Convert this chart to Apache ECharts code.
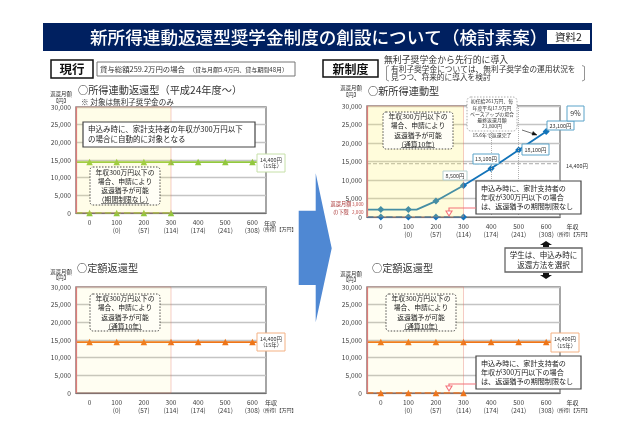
<!DOCTYPE html>
<html>
<head>
<meta charset="utf-8">
<style>
html, body { margin: 0; padding: 0; background: #fff; }
#box { width: 640px; height: 426px; }
</style>
<script src="https://cdn.jsdelivr.net/npm/echarts@6/dist/echarts.min.js"></script>
</head>
<body>
<div id="box"></div>
<script>
var xLabels = ['0', '100', '200', '300', '400', '500', '600'];
var incomeLabels = ['', '(0)', '(57)', '(114)', '(174)', '(241)', '(308)'];
var yTicks = [0, 5000, 10000, 15000, 20000, 25000, 30000];

// 横軸の数値位置（-50 と 650 は枠の端）
var flatX = [-50, 0, 100, 200, 300, 400, 500, 600, 650];
var flatValues = [14400, 14400, 14400, 14400, 14400, 14400, 14400, 14400, 14400];
var zeroX = [-50, 0, 100, 200, 300];
var zeroValues = [0, 0, 0, 0, 0];
var newX = [-50, 0, 100, 130, 200, 300, 400, 500, 600];
var newValues = [2000, 2000, 2000, 2000, 4300, 8500, 13100, 18100, 23100];
var refX = [-50, 650];
var refValues = [14400, 14400];
var bandRange = [-50, 300];
var dottedX = [400, 500];

var FONT = '"Noto Sans CJK JP", "Noto Sans", sans-serif';
var GREEN = '#92c83e', ORANGE = '#ee7518', BLUE = '#1273b9';

function pairs(xs, ys) {
    return xs.map(function (x, i) { return [x, ys[i]]; });
}

function fmt(v) {
    return String(v).replace(/\B(?=(\d{3})+$)/g, ',');
}

var grids = [
    { left: 76, top: 107, width: 190, height: 106 },
    { left: 76, top: 287, width: 190, height: 106 },
    { left: 367, top: 106, width: 193, height: 111 },
    { left: 367, top: 287, width: 193, height: 106 }
];

function lineSeries(idx, xs, ys, color, opt) {
    opt = opt || {};
    return {
        type: 'line',
        xAxisIndex: idx * 2 + 1,
        yAxisIndex: idx,
        data: pairs(xs, ys),
        silent: true,
        animation: false,
        symbol: function (v) {
            return (opt.symbol && xLabels.indexOf(String(v[0])) >= 0) ? opt.symbol : 'none';
        },
        symbolSize: opt.size || 6.5,
        showSymbol: true,
        showAllSymbol: true,
        itemStyle: { color: color },
        lineStyle: { color: color, width: opt.width || 1.6, type: opt.dash ? 'dashed' : 'solid' },
        z: 3
    };
}

function bandSeries(idx, color) {
    return {
        type: 'line',
        xAxisIndex: idx * 2 + 1,
        yAxisIndex: idx,
        data: [],
        silent: true,
        animation: false,
        markArea: {
            silent: true,
            z: 5,
            itemStyle: { color: color, borderColor: 'rgba(225,110,100,0.35)', borderWidth: 1 },
            data: [[{ coord: [bandRange[0], 30000] }, { coord: [bandRange[1], 0] }]]
        },
        // 帯の左端だけ濃い赤
        markLine: {
            silent: true, symbol: 'none', label: { show: false }, animation: false, z: 5,
            lineStyle: { color: '#dc7c78', type: 'solid', width: 1.2 },
            data: [{ xAxis: bandRange[0] }]
        }
    };
}

var xAxes = [], yAxes = [];
grids.forEach(function (g, i) {
    xAxes.push({
        type: 'category', gridIndex: i, data: xLabels,
        axisLine: { lineStyle: { color: '#707070', width: 1.2 } },
        axisTick: { length: 3, lineStyle: { color: '#808080' } },
        axisLabel: {
            interval: 0, fontSize: 6.5, fontFamily: FONT, color: '#404040', margin: 5, lineHeight: 8.5,
            formatter: function (v, n) { return v + '\n' + incomeLabels[n]; }
        }
    });
    xAxes.push({ type: 'value', gridIndex: i, min: -50, max: 650, show: false });
    yAxes.push({
        type: 'value', gridIndex: i, min: yTicks[0], max: yTicks[yTicks.length - 1], interval: 5000,
        axisLine: { show: false }, axisTick: { show: false },
        axisLabel: { fontSize: 6.6, fontFamily: FONT, color: '#404040', margin: 5, formatter: fmt },
        splitLine: { lineStyle: { color: '#c4c4c4', width: 1.3 } }
    });
});

var series = [
    bandSeries(0, 'rgba(255,240,90,0.14)'),
    bandSeries(1, 'rgba(255,240,90,0.08)'),
    bandSeries(2, 'rgba(255,240,90,0.22)'),
    bandSeries(3, 'rgba(255,240,90,0.08)'),
    lineSeries(0, flatX, flatValues, GREEN, { symbol: 'triangle' }),
    lineSeries(0, zeroX, zeroValues, GREEN, { symbol: 'triangle', dash: true }),
    lineSeries(1, flatX, flatValues, ORANGE, { symbol: 'triangle' }),
    lineSeries(2, refX, refValues, '#a8a8a8', { dash: true, width: 1 }),
    lineSeries(2, newX, newValues, BLUE, { symbol: 'diamond', size: 7, width: 1.8 }),
    lineSeries(2, zeroX, zeroValues, BLUE, { symbol: 'diamond', size: 7, dash: true }),
    lineSeries(3, flatX, flatValues, ORANGE, { symbol: 'triangle' }),
    lineSeries(3, zeroX, zeroValues, ORANGE, { symbol: 'triangle', dash: true })
];

// 新所得連動型の 400 / 500 の縦点線
series[7].markLine = {
    silent: true, symbol: 'none', label: { show: false }, animation: false,
    lineStyle: { color: '#b0b0b0', type: 'dotted', width: 1 },
    data: dottedX.map(function (x) { return { xAxis: x }; })
};

var g = [];

function rect(x, y, w, h, fill, stroke, lw, extra) {
    extra = extra || {};
    g.push({
        type: 'rect', z: 20, silent: true,
        shape: { x: x, y: y, width: w, height: h, r: extra.r || 0 },
        style: { fill: fill, stroke: stroke || null, lineWidth: lw || 0, lineDash: extra.dash || null }
    });
}

function text(x, y, s, size, extra) {
    extra = extra || {};
    g.push({
        type: 'text', z: 21, silent: true,
        style: {
            x: x, y: y, text: s, fontSize: size, fontFamily: FONT,
            fontWeight: extra.weight || 'normal', fill: extra.color || '#333',
            align: extra.align || 'left', verticalAlign: 'middle',
            lineHeight: extra.lh || size + 1.5
        }
    });
}

function poly(points, stroke, lw, fill) {
    g.push({
        type: fill ? 'polygon' : 'polyline', z: 21, silent: true,
        shape: { points: points },
        style: { stroke: stroke || null, lineWidth: lw || 0, fill: fill || null }
    });
}

function valueBox(x, y, w, h, s, color) {
    rect(x, y, w, h, '#fff', color, 1);
    text(x + w / 2, y + h / 2, s, 5.4, { align: 'center' });
}

function deferBox(x, y, w, h, last, uw) {
    rect(x, y, w, h, '#fffef6', '#222', 0.8, { r: 3, dash: [1.5, 1.5] });
    text(x + w / 2, y + h / 2, '年収300万円以下の\n場合、申請により\n返還猶予が可能\n' + last, 6.8, { align: 'center', lh: 9.2, color: '#222' });
    poly([[x + w / 2 - uw, y + h - 1.5], [x + w / 2 + uw, y + h - 1.5]], '#333', 0.6);
}

function noticeBox(x, y, w, h, s, size, lh) {
    rect(x, y, w, h, '#fff', '#444', 1.2);
    text(x + 5, y + h / 2, s, size, { lh: lh, color: '#222' });
}

function redArrow(y, bottom) {
    poly([[476, y], [449, y], [449, bottom - 4]], '#f4727a', 1.2);
    poly([[446, bottom - 5], [452, bottom - 5], [449, bottom]], '#f4727a', 1.1, '#fff');
}

// ヘッダー
rect(43, 23, 549, 28, '#002060');
text(90, 37.5, '新所得連動返還型奨学金制度の創設について（検討素案）', 17.6, { color: '#fff', weight: 500 });
rect(547, 30, 43, 14, '#fff');
text(568.5, 37.5, '資料2', 10.5, { align: 'center', color: '#222' });

// 現行
rect(51, 60, 42, 18, '#fff', '#111', 1.5);
text(72, 69.5, '現行', 12.5, { align: 'center', weight: 'bold', color: '#111' });
rect(97, 62, 198, 14, '#fff', '#777', 1);
text(100, 69.5, '貸与総額259.2万円の場合', 7.4);
text(189, 69.5, '（貸与月額5.4万円、貸与期間48月）', 6);

text(78, 90, '○所得連動返還型（平成24年度～）', 10.2);
text(81, 102, '※ 対象は無利子奨学金のみ', 7.6);
text(61, 97.5, '返還月額\n【円】', 5.4, { align: 'center', lh: 6.5 });
noticeBox(83, 122, 172, 25, '申込み時に、家計支持者の年収が300万円以下\nの場合に自動的に対象となる', 7.5, 10);
deferBox(90, 167, 70, 38, '（期間制限なし）', 24);
valueBox(257, 154, 28, 18, '14,400円\n（15年）', '#c6e0a8');
text(264, 224, '年収', 6);
text(263, 229.5, '(所得)【万円】', 5);

text(77, 268, '○定額返還型', 10.2);
text(61, 275, '返還月額\n【円】', 5.4, { align: 'center', lh: 6.5 });
deferBox(90, 294, 70, 37, '（通算10年）', 17);
valueBox(257, 333, 28, 18, '14,400円\n（15年）', '#f4b183');
text(265, 403, '年収', 6);
text(263, 410, '(所得)【万円】', 5);

// 矢印
poly([[298.7, 210.7], [315.7, 210.7], [315.7, 173.3], [331.7, 248.3], [315.7, 322.3], [315.7, 285], [298.7, 285]], null, 0, '#4f88d3');

// 新制度
rect(323, 60, 55, 17, '#fff', '#111', 1.5);
text(350.5, 69, '新制度', 12, { align: 'center', weight: 'bold', color: '#111' });
text(384, 60, '無利子奨学金から先行的に導入', 8.9);
text(391, 73.5, '有利子奨学金については、無利子奨学金の運用状況を\n見つつ、将来的に導入を検討', 7.7, { lh: 8 });
poly([[389, 65.5], [386.5, 66.5], [386.5, 80], [389, 81]], '#666', 0.7);
poly([[582, 65.5], [584.5, 66.5], [584.5, 80], [582, 81]], '#666', 0.7);

text(368, 91, '○新所得連動型', 10.2);
text(351, 91.5, '返還月額\n【円】', 5.4, { align: 'center', lh: 6.5 });
deferBox(383, 112, 70, 37, '（通算10年）', 17);

rect(467, 97, 50, 34, '#fff', '#888', 0.7, { r: 4, dash: [1.5, 1.5] });
text(492, 114, '初任給261万円、毎\n年度平均17.9万円\nベースアップの場合\n最終返還月額\n21,800円', 4.9, { align: 'center', lh: 6.2, color: '#333' });
text(492, 135, '15.6年で返還完了', 4.9, { align: 'center' });
poly([[522, 130], [534, 134]], '#333', 0.7);
poly([[533, 131.5], [537, 135], [532, 135]], '#111', 0.5, '#111');

valueBox(443, 171, 24, 9, fmt(newValues[5]) + '円', '#b6d2d2');
valueBox(473, 154, 26, 10, fmt(newValues[6]) + '円', '#5ba3c9');
valueBox(522, 144, 27, 11, fmt(newValues[7]) + '円', '#5ba3c9');
valueBox(547, 121, 27, 9, fmt(newValues[8]) + '円', '#5ba3c9');
rect(567, 106, 17, 15, '#fff', '#5ba3c9', 1);
text(575.5, 113.5, '9%', 7, { align: 'center' });
text(566, 166, '14,400円', 5.4);

noticeBox(476, 181, 105, 33, '申込み時に、家計支持者の\n年収が300万円以下の場合\nは、返還猶予の期間制限なし', 7.1, 9);
redArrow(208, 216);
text(341, 208, '返還月額\nの下限', 5.2, { align: 'center', color: '#a83232', lh: 7.5 });
text(352, 204.5, '3,000', 4.6, { color: '#c0504d' });
text(352, 212, '2,000', 4.6, { color: '#c0504d' });
text(566.5, 227, '年収', 6, {});
text(557, 234, '(所得)【万円】', 5);

rect(505, 248, 77, 24, '#fff', '#666', 1.3);
text(543.5, 260, '学生は、申込み時に\n返還方法を選択', 7.5, { align: 'center', lh: 9.4, color: '#222' });
poly([[546, 241], [552, 245], [549, 245], [549, 247], [543, 247], [543, 245], [540, 245]], null, 0, '#111');
poly([[546, 279], [552, 275], [549, 275], [549, 273], [543, 273], [543, 275], [540, 275]], null, 0, '#111');

text(372, 268, '○定額返還型', 10.2);
text(351, 277, '返還月額\n【円】', 5.4, { align: 'center', lh: 6.5 });
deferBox(386, 294, 70, 37, '（通算10年）', 17);
valueBox(551, 333, 28, 19, '14,400円\n（15年）', '#f4b183');
noticeBox(476, 356, 105, 33, '申込み時に、家計支持者の\n年収が300万円以下の場合\nは、返還猶予の期間制限なし', 7.1, 9);
redArrow(384, 391);
text(566.5, 403, '年収', 6);
text(557, 410, '(所得)【万円】', 5);

var chart = echarts.init(document.getElementById('box'), null, { renderer: 'canvas' });
chart.setOption({
    animation: false,
    backgroundColor: '#fff',
    textStyle: { fontFamily: FONT },
    grid: grids.map(function (o) {
        return { left: o.left, top: o.top, width: o.width, height: o.height, show: true, borderColor: '#808080', borderWidth: 1.4, containLabel: false };
    }),
    xAxis: xAxes,
    yAxis: yAxes,
    series: series,
    graphic: { elements: g }
});
</script>
</body>
</html>
